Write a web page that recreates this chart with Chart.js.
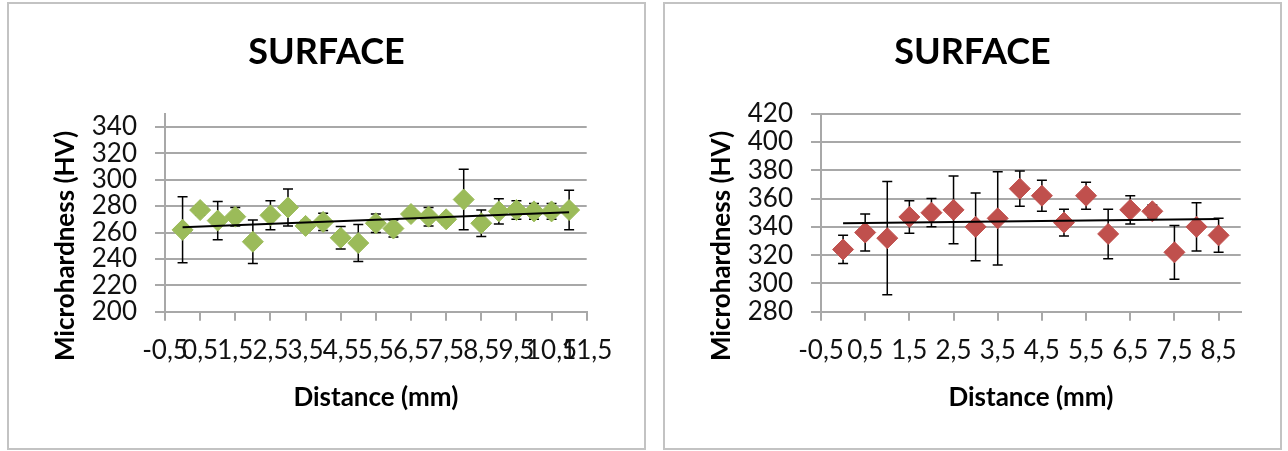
<!DOCTYPE html>
<html>
<head>
<meta charset="utf-8">
<script src="https://cdn.jsdelivr.net/npm/chart.js@4/dist/chart.umd.min.js"></script>
<style>
  body { margin: 0; background: #fff; width: 1288px; height: 451px; overflow: hidden; position: relative; }
  .panel { position: absolute; top: 2px; height: 444px; border: 2px solid #c3c3c3; background: #fff; }
  #p1 { left: 7px; width: 635px; }
  #p2 { left: 663px; width: 615px; }
  canvas { display: block; }
</style>
</head>
<body>
<div class="panel" id="p1"><canvas id="c1" width="635" height="444"></canvas></div>
<div class="panel" id="p2"><canvas id="c2" width="615" height="444"></canvas></div>
<script>
// left chart (green)
const distA = [0, 0.5, 1, 1.5, 2, 2.5, 3, 3.5, 4, 4.5, 5, 5.5, 6, 6.5, 7, 7.5, 8, 8.5, 9, 9.5, 10, 10.5, 11];
const hvA   = [262, 277, 269, 272, 253, 273, 279, 265, 268, 256, 252, 267, 263, 274, 272, 270, 285, 267, 276, 277, 276, 276, 277];
const errA  = [25, 4, 14.5, 7, 16.5, 11, 14, 4, 6.5, 8.5, 14, 7, 6.5, 4, 7, 4, 23, 10, 9.5, 7, 6, 6, 15];
const trendXA = [0, 11];
const trendYA = [264, 275.3];
const xTicksA = [-0.5, 0.5, 1.5, 2.5, 3.5, 4.5, 5.5, 6.5, 7.5, 8.5, 9.5, 10.5, 11.5];
const yTicksA = [200, 220, 240, 260, 280, 300, 320, 340];

// right chart (red)
const distB = [0, 0.5, 1, 1.5, 2, 2.5, 3, 3.5, 4, 4.5, 5, 5.5, 6, 6.5, 7, 7.5, 8, 8.5];
const hvB   = [324, 336, 332, 347, 350, 352, 340, 346, 367, 362, 343, 362, 335, 352, 351, 322, 340, 334];
const errB  = [10, 13, 40, 11.5, 10, 24, 24, 33, 12.5, 11, 9.5, 9.5, 17.5, 10, 4.5, 19, 17, 12];
const trendXB = [0, 8.5];
const trendYB = [342.6, 345.6];
const xTicksB = [-0.5, 0.5, 1.5, 2.5, 3.5, 4.5, 5.5, 6.5, 7.5, 8.5];
const yTicksB = [280, 300, 320, 340, 360, 380, 400, 420];

const FONT = 'Lato, "Open Sans", sans-serif';
const GRID = '#a8a8a8';

// vertical error bars, drawn under the markers
const errorBars = {
  id: 'errorBars',
  beforeDatasetsDraw(chart) {
    const { ctx, scales: { x, y } } = chart;
    chart.data.datasets.forEach(ds => {
      if (!ds.errors) return;
      ctx.save();
      ctx.strokeStyle = '#000';
      ctx.lineWidth = 1.5;
      ds.data.forEach((p, i) => {
        const px = x.getPixelForValue(p.x);
        const top = y.getPixelForValue(p.y + ds.errors[i]);
        const bot = y.getPixelForValue(p.y - ds.errors[i]);
        ctx.beginPath();
        ctx.moveTo(px, top); ctx.lineTo(px, bot);
        ctx.moveTo(px - 5, top); ctx.lineTo(px + 5, top);
        ctx.moveTo(px - 5, bot); ctx.lineTo(px + 5, bot);
        ctx.stroke();
      });
      ctx.restore();
    });
  }
};

// y axis title, placed like the Excel one (a bit below the plot centre)
const yTitle = {
  id: 'yTitle',
  afterDraw(chart, args, opts) {
    const ctx = chart.ctx;
    ctx.save();
    ctx.translate(opts.x, opts.y);
    ctx.rotate(-Math.PI / 2);
    ctx.font = 'bold 26px ' + FONT;
    ctx.fillStyle = '#000';
    ctx.textAlign = 'center';
    ctx.textBaseline = 'middle';
    ctx.fillText(opts.text, 0, 0);
    ctx.restore();
  }
};

function makeChart(id, xs, ys, errs, tx, ty, color, xTicks, yTicks, xMax, yMin, yMax, padRight) {
  new Chart(document.getElementById(id), {
    type: 'scatter',
    data: {
      datasets: [
        {
          type: 'line',
          data: tx.map((v, i) => ({ x: v, y: ty[i] })),
          borderColor: '#000',
          borderWidth: 2,
          pointRadius: 0,
          fill: false,
          order: 0
        },
        {
          data: xs.map((v, i) => ({ x: v, y: ys[i] })),
          errors: errs,
          pointStyle: 'rectRot',
          pointRadius: 10.5,
          pointHoverRadius: 10.5,
          backgroundColor: color,
          borderColor: color,
          borderWidth: 1,
          order: 1
        }
      ]
    },
    options: {
      responsive: false,
      animation: false,
      events: [],
      layout: { autoPadding: false, padding: 0 },
      plugins: {
        legend: { display: false },
        tooltip: { enabled: false },
        title: {
          display: true,
          text: 'SURFACE',
          color: '#000',
          font: { family: FONT, size: 36, weight: 'bold' },
          padding: { top: 27, bottom: 39.5 }
        },
        yTitle: { text: 'Microhardness (HV)', x: 57, y: 242 }
      },
      scales: {
        x: {
          type: 'linear',
          min: -0.5,
          max: xMax,
          afterBuildTicks: s => { s.ticks = xTicks.map(v => ({ value: v })); },
          afterFit: s => { s.height = 136.3; },
          grid: { drawOnChartArea: false, drawTicks: true, tickLength: 9, color: GRID, lineWidth: 2 },
          border: { color: GRID, width: 2 },
          ticks: {
            autoSkip: false, maxRotation: 0, minRotation: 0, padding: 14,
            color: '#111',
            font: { family: FONT, size: 26 },
            callback: v => String(v).replace('.', ',')
          },
          title: {
            display: true,
            text: 'Distance (mm)',
            color: '#000',
            font: { family: FONT, size: 26, weight: 'bold' },
            padding: { top: 0, bottom: 35 }
          }
        },
        y: {
          min: yMin,
          max: yMax,
          afterBuildTicks: s => { s.ticks = yTicks.map(v => ({ value: v })); },
          afterFit: s => { s.width = 156; },
          grid: { color: GRID, lineWidth: 2, tickLength: 10 },
          border: { color: GRID, width: 2 },
          ticks: { autoSkip: false, padding: 18, color: '#111', font: { family: FONT, size: 26 } }
        },
        // empty right-hand axis, only keeps the blank margin right of the plot
        yRight: {
          position: 'right',
          min: yMin,
          max: yMax,
          afterFit: s => { s.width = padRight; },
          grid: { display: false },
          border: { display: false },
          ticks: { display: false }
        }
      }
    },
    plugins: [errorBars, yTitle]
  });
}

makeChart('c1', distA, hvA, errA, trendXA, trendYA, '#9bbb59', xTicksA, yTicksA, 11.5, 200, 350, 57.3);
makeChart('c2', distB, hvB, errB, trendXB, trendYB, '#c0504d', xTicksB, yTicksB, 9, 280, 420, 39.3);
</script>
</body>
</html>
